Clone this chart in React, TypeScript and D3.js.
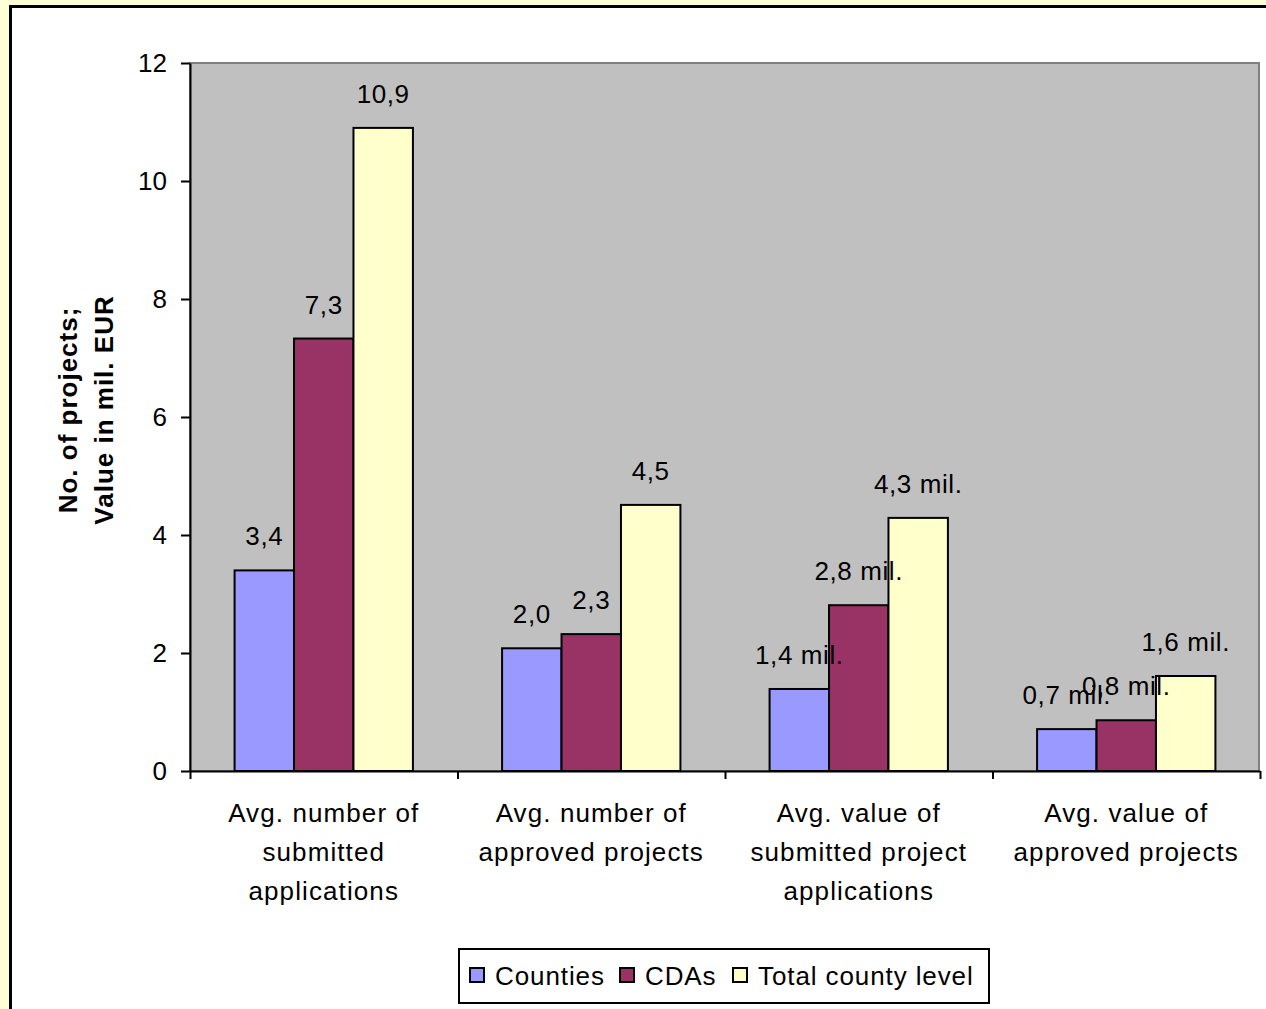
import React, { useEffect, useRef } from 'react';
import * as d3 from 'd3';

const categories = [
  ['Avg. number of', 'submitted', 'applications'],
  ['Avg. number of', 'approved projects'],
  ['Avg. value of', 'submitted project', 'applications'],
  ['Avg. value of', 'approved projects'],
];
const seriesNames = ['Counties', 'CDAs', 'Total county level'];
const counties = [3.4, 2.08, 1.39, 0.71];
const cdas = [7.33, 2.32, 2.81, 0.86];
const total = [10.9, 4.51, 4.29, 1.61];
const countiesLabels = ['3,4', '2,0', '1,4 mil.', '0,7 mil.'];
const cdasLabels = ['7,3', '2,3', '2,8 mil.', '0,8 mil.'];
const totalLabels = ['10,9', '4,5', '4,3 mil.', '1,6 mil.'];
const yTicks = [0, 2, 4, 6, 8, 10, 12];
const colors = ['#9999FF', '#993366', '#FFFFCC'];

export default function App() {
  const svgRef = useRef<SVGSVGElement>(null);

  useEffect(() => {
    if (!svgRef.current) return;
    const svg = d3.select(svgRef.current);
    svg.selectAll('*').remove();

    const width = 1266;
    const height = 1009;
    const font = 'Liberation Sans, Arial, sans-serif';
    const fs = 26;
    const plot = { left: 190, right: 1260, top: 63, bottom: 771 };

    // page and chart area
    svg.append('rect').attr('width', width).attr('height', height).attr('fill', '#FFFFD6');
    svg.append('rect')
      .attr('x', 10.5).attr('y', 6.5)
      .attr('width', width + 20).attr('height', height + 20)
      .attr('fill', '#fff').attr('stroke', '#000').attr('stroke-width', 3);

    const x0 = d3.scaleBand<number>()
      .domain(d3.range(categories.length))
      .range([plot.left, plot.right]);
    const x1 = d3.scaleBand<number>()
      .domain([0, 1, 2])
      .range([0, x0.bandwidth()])
      .paddingOuter(0.75)
      .paddingInner(0);
    const y = d3.scaleLinear().domain([0, 12]).range([plot.bottom, plot.top]);

    // plot area
    svg.append('rect')
      .attr('x', plot.left).attr('y', plot.top)
      .attr('width', plot.right - plot.left - 1).attr('height', plot.bottom - plot.top)
      .attr('fill', '#C0C0C0').attr('stroke', '#808080').attr('stroke-width', 2);

    const series = [counties, cdas, total];
    const labels = [countiesLabels, cdasLabels, totalLabels];

    const groups = svg.append('g');
    series.forEach((vals, si) => {
      groups.selectAll(`.bar${si}`)
        .data(vals)
        .enter()
        .append('rect')
        .attr('x', (_, i) => x0(i)! + x1(si)!)
        .attr('y', d => y(d))
        .attr('width', x1.bandwidth())
        .attr('height', d => y(0) - y(d))
        .attr('fill', colors[si])
        .attr('stroke', '#000')
        .attr('stroke-width', 2);
    });

    series.forEach((vals, si) => {
      groups.selectAll(`.lab${si}`)
        .data(vals)
        .enter()
        .append('text')
        .attr('x', (_, i) => x0(i)! + x1(si)! + x1.bandwidth() / 2)
        .attr('y', d => y(d) - 25)
        .attr('text-anchor', 'middle')
        .attr('font-family', font)
        .attr('font-size', fs)
        .attr('letter-spacing', 0.6)
        .attr('fill', '#000')
        .text((_, i) => labels[si][i]);
    });

    // Y axis
    const yAxis = svg.append('g')
      .attr('transform', `translate(${plot.left},0)`)
      .call(d3.axisLeft(y).tickValues(yTicks).tickSize(9).tickPadding(14).tickSizeOuter(0));
    yAxis.select('.domain').attr('stroke', '#000').attr('stroke-width', 2);
    yAxis.selectAll('.tick line').attr('stroke', '#000').attr('stroke-width', 2);
    yAxis.selectAll('.tick text')
      .attr('font-family', font).attr('font-size', fs).attr('fill', '#000');

    // X axis
    const xAxis = svg.append('g')
      .attr('transform', `translate(0,${plot.bottom})`)
      .call(d3.axisBottom(d3.scaleLinear().domain([0, 4]).range([plot.left, plot.right]))
        .tickValues([0, 1, 2, 3, 4]).tickSize(8).tickFormat(() => '').tickSizeOuter(0));
    xAxis.select('.domain').attr('stroke', '#000').attr('stroke-width', 2);
    xAxis.selectAll('.tick line').attr('stroke', '#000').attr('stroke-width', 2);

    // category labels
    categories.forEach((lines, i) => {
      const cx = x0(i)! + x0.bandwidth() / 2;
      const t = svg.append('text')
        .attr('x', cx)
        .attr('y', 822)
        .attr('text-anchor', 'middle')
        .attr('font-family', font)
        .attr('font-size', fs)
        .attr('letter-spacing', 1.1)
        .attr('fill', '#000');
      lines.forEach((ln, k) => {
        t.append('tspan')
          .attr('x', cx)
          .attr('dy', k === 0 ? 0 : 39)
          .text(ln);
      });
    });

    // Y title
    const yt = svg.append('text')
      .attr('transform', `translate(77,410) rotate(-90)`)
      .attr('text-anchor', 'middle')
      .attr('font-family', font)
      .attr('font-size', fs)
      .attr('font-weight', 'bold')
      .attr('letter-spacing', 1)
      .attr('fill', '#000');
    yt.append('tspan').attr('x', 0).attr('dy', 0).text('No. of projects;');
    yt.append('tspan').attr('x', 0).attr('dy', 36).text('Value in mil. EUR');

    // legend
    const lg = svg.append('g').attr('transform', 'translate(459,949)');
    lg.append('rect')
      .attr('width', 530).attr('height', 54)
      .attr('fill', '#fff').attr('stroke', '#000').attr('stroke-width', 2);
    const itemX = [11, 161, 274];
    seriesNames.forEach((name, i) => {
      lg.append('rect')
        .attr('x', itemX[i]).attr('y', 19)
        .attr('width', 14).attr('height', 14)
        .attr('fill', colors[i]).attr('stroke', '#000').attr('stroke-width', 2);
      lg.append('text')
        .attr('x', itemX[i] + 25).attr('y', 36)
        .attr('font-family', font).attr('font-size', fs).attr('letter-spacing', 0.9)
        .attr('fill', '#000')
        .text(name);
    });
  }, []);

  return (
    <svg
      ref={svgRef}
      width={1266}
      height={1009}
      style={{ position: 'absolute', left: 0, top: 0 }}
    />
  );
}
